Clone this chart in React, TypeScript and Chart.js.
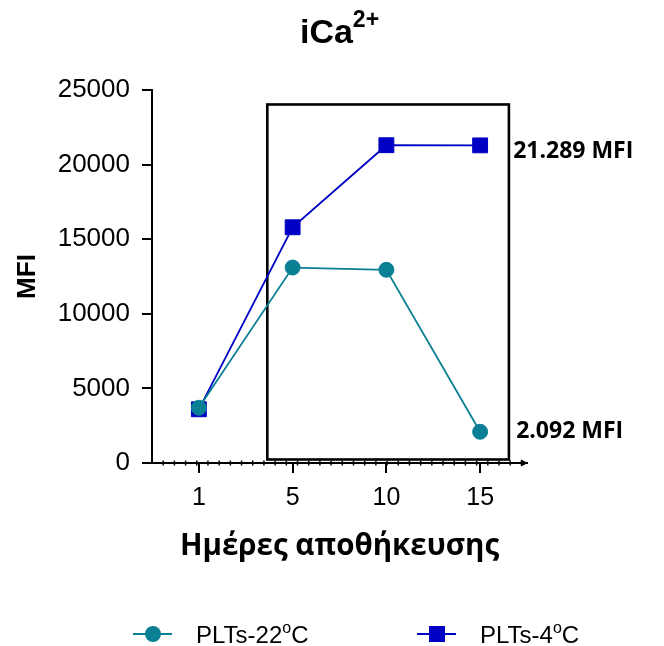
import React, { useEffect, useRef } from "react";
import { Chart, registerables } from "chart.js";

Chart.register(...registerables);

const days = ["1", "5", "10", "15"];
const plts22 = [3700, 13100, 12950, 2092];
const plts4 = [3600, 15800, 21300, 21289];
const yTicks = { min: 0, max: 25000, step: 5000 };
const seriesNames = ["PLTs-22", "PLTs-4"];
const endLabels = [
  { text: "21.289 MFI", dataset: 1, index: 3, dx: 33, dy: 12.5 },
  { text: "2.092 MFI", dataset: 0, index: 3, dx: 36, dy: 6 },
];
const highlightX = [0.73, 3.307];
const highlightY = [235, 24030];

const TEAL = "#0b7f94";
const BLUE = "#0000c4";
const ARIAL = "'Liberation Sans', Arial, sans-serif";
const OPEN = "'Open Sans', 'Noto Sans', sans-serif";

type Part = { t: string; sup?: boolean };

function drawRich(
  ctx: CanvasRenderingContext2D,
  parts: Part[],
  x: number,
  y: number,
  align: "left" | "center",
  font: string,
  supFont: string,
  rise: number
) {
  ctx.save();
  ctx.textBaseline = "alphabetic";
  ctx.textAlign = "left";
  let total = 0;
  const widths = parts.map((p) => {
    ctx.font = p.sup ? supFont : font;
    const w = ctx.measureText(p.t).width;
    total += w;
    return w;
  });
  let cx = align === "center" ? x - total / 2 : x;
  parts.forEach((p, i) => {
    ctx.font = p.sup ? supFont : font;
    ctx.fillText(p.t, cx, p.sup ? y - rise : y);
    cx += widths[i];
  });
  ctx.restore();
}

const decor = {
  id: "decor",
  beforeDatasetsDraw(chart: any) {
    const ctx = chart.ctx as CanvasRenderingContext2D;
    const x = chart.scales.x;
    const y = chart.scales.y;
    ctx.save();
    ctx.strokeStyle = "#000";
    ctx.lineWidth = 2.6;
    const l = x.getPixelForValue(highlightX[0]);
    const r = x.getPixelForValue(highlightX[1]);
    const t = y.getPixelForValue(highlightY[1]);
    const b = y.getPixelForValue(highlightY[0]);
    ctx.strokeRect(l, t, r - l, b - t);
    ctx.restore();
  },
  afterDraw(chart: any) {
    const ctx = chart.ctx as CanvasRenderingContext2D;
    const area = chart.chartArea;
    const cxm = (area.left + area.right) / 2;
    ctx.save();
    ctx.fillStyle = "#000";
    ctx.strokeStyle = "#000";

    // minor ticks on x axis
    const step = (area.right - area.left) / 33.5;
    ctx.lineWidth = 1.5;
    for (let k = 1; k <= 33; k++) {
      const px = area.left + k * step;
      ctx.beginPath();
      ctx.moveTo(px, area.bottom - 2.5);
      ctx.lineTo(px, area.bottom + 2.5);
      ctx.stroke();
    }
    // arrow head
    ctx.beginPath();
    ctx.moveTo(area.right + 1, area.bottom);
    ctx.lineTo(area.right - 6, area.bottom - 3.5);
    ctx.lineTo(area.right - 6, area.bottom + 3.5);
    ctx.closePath();
    ctx.fill();

    // title
    drawRich(
      ctx,
      [{ t: "iCa" }, { t: "2+", sup: true }],
      cxm,
      35,
      "center",
      `bold 34px ${ARIAL}`,
      `bold 23px ${ARIAL}`,
      16
    );

    // y title
    ctx.save();
    ctx.translate(27, (area.top + area.bottom) / 2);
    ctx.rotate(-Math.PI / 2);
    ctx.font = `bold 26px ${ARIAL}`;
    ctx.textAlign = "center";
    ctx.textBaseline = "alphabetic";
    ctx.fillText("MFI", 0, 0);
    ctx.restore();

    // x title
    ctx.font = `bold 29.5px ${OPEN}`;
    ctx.textAlign = "center";
    ctx.textBaseline = "alphabetic";
    ctx.fillText("Ημέρες αποθήκευσης", cxm, 547);

    // end labels
    ctx.font = `bold 23px ${OPEN}`;
    ctx.textAlign = "left";
    endLabels.forEach((lab) => {
      const el = chart.getDatasetMeta(lab.dataset).data[lab.index];
      ctx.fillText(lab.text, el.x + lab.dx, el.y + lab.dy);
    });

    // legend
    const legendY = 626;
    const items = [
      { name: seriesNames[0], color: TEAL, style: "circle", lx: 125 },
      { name: seriesNames[1], color: BLUE, style: "rect", lx: 409 },
    ];
    items.forEach((it) => {
      ctx.strokeStyle = it.color;
      ctx.fillStyle = it.color;
      ctx.lineWidth = 2;
      ctx.beginPath();
      ctx.moveTo(it.lx, legendY);
      ctx.lineTo(it.lx + 39, legendY);
      ctx.stroke();
      const mx = it.lx + 20;
      if (it.style === "circle") {
        ctx.beginPath();
        ctx.arc(mx, legendY, 8, 0, Math.PI * 2);
        ctx.fill();
      } else {
        ctx.fillRect(mx - 8, legendY - 8, 16, 16);
      }
      ctx.fillStyle = "#000";
      drawRich(
        ctx,
        [{ t: it.name }, { t: "o", sup: true }, { t: "C" }],
        it.lx + 63,
        legendY + 9,
        "left",
        `24px ${ARIAL}`,
        `16px ${ARIAL}`,
        10
      );
    });
    ctx.restore();
  },
};

export default function App() {
  const ref = useRef<HTMLCanvasElement | null>(null);
  useEffect(() => {
    if (!ref.current) return;
    const chart = new Chart(ref.current, {
      type: "line",
      data: {
        labels: days,
        datasets: [
          {
            label: seriesNames[0],
            data: plts22,
            borderColor: TEAL,
            backgroundColor: TEAL,
            borderWidth: 1.8,
            pointStyle: "circle",
            pointRadius: 7.5,
            pointBorderWidth: 1,
            tension: 0,
          },
          {
            label: seriesNames[1],
            data: plts4,
            borderColor: BLUE,
            backgroundColor: BLUE,
            borderWidth: 1.8,
            pointStyle: "rect",
            pointRadius: 10.5,
            pointBorderWidth: 1,
            tension: 0,
          },
        ],
      },
      options: {
        responsive: false,
        animation: false,
        layout: { padding: { left: 24, right: 129, top: 82, bottom: 123 } },
        plugins: {
          legend: { display: false },
          title: { display: false },
          tooltip: { enabled: false },
        },
        scales: {
          x: {
            type: "category",
            offset: true,
            grid: {
              offset: false,
              drawOnChartArea: false,
              tickLength: 10,
              lineWidth: 2,
              color: "#000",
            },
            border: { color: "#000", width: 2 },
            ticks: {
              color: "#000",
              font: { family: ARIAL, size: 25 },
              padding: 10,
              maxRotation: 0,
            },
            afterFit: (s: any) => {
              s.height = 60;
            },
          },
          y: {
            min: yTicks.min,
            max: yTicks.max,
            grid: {
              drawOnChartArea: false,
              tickLength: 10,
              lineWidth: 2,
              color: "#000",
            },
            border: { color: "#000", width: 2 },
            ticks: {
              stepSize: yTicks.step,
              color: "#000",
              font: { family: ARIAL, size: 26 },
              padding: 12,
              callback: (v: any) => String(v),
            },
            afterFit: (s: any) => {
              s.width = 120;
            },
          },
        },
      },
      plugins: [decor],
    } as any);
    return () => chart.destroy();
  }, []);
  return (
    <canvas
      ref={ref}
      width={648}
      height={638}
      style={{ display: "block", width: 648, height: 638 }}
    />
  );
}
